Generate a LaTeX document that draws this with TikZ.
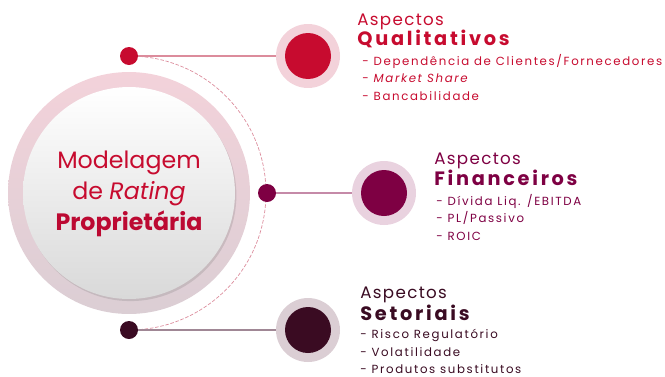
\documentclass[tikz,border=0pt]{standalone}
\usepackage{fontspec}
\setmainfont{Poppins}
\newfontfamily\spacedfont[LetterSpace=14]{Poppins}
\newfontfamily\wideheadfont[LetterSpace=8]{Poppins}
\newfontfamily\boldheadfont[LetterSpace=14]{Poppins}
\usetikzlibrary{shadows}

\definecolor{qualred}{HTML}{C70B2F}
\definecolor{qualring}{HTML}{F3D2DA}
\definecolor{qualline}{HTML}{DC8C9C}
\definecolor{finwine}{HTML}{7E0043}
\definecolor{finring}{HTML}{E9D2DF}
\definecolor{finline}{HTML}{C58AA8}
\definecolor{setplum}{HTML}{3A0B22}
\definecolor{setring}{HTML}{DBCED4}
\definecolor{setline}{HTML}{A08795}

\tikzset{
  dot/.style={circle, minimum size=0.36cm, inner sep=0},
  ringbig/.style={circle, minimum size=1.28cm, inner sep=0},
  corebig/.style={circle, minimum size=0.92cm, inner sep=0},
  head/.style={anchor=base west, inner sep=0, font=\wideheadfont\fontsize{9.5}{11}\selectfont},
  headbold/.style={anchor=base west, inner sep=0, font=\boldheadfont\bfseries\fontsize{11}{12}\selectfont},
  item/.style={anchor=base west, inner sep=0, font=\spacedfont\fontsize{6.7}{8}\selectfont},
  centertext/.style={anchor=base, inner sep=0, text=qualred}
}

\begin{document}
\begin{tikzpicture}[x=0.02cm, y=-0.02cm]
\useasboundingbox (0,0) rectangle (665,376);

% central circle
\node[circle, minimum size=4.84cm, inner sep=0, top color=qualring, bottom color=setring] (coreRing) at (129,193) {};
\node[circle, minimum size=4.24cm, inner sep=0, top color=white, bottom color=black!15,
      drop shadow={shadow xshift=0.8pt, shadow yshift=-1.2pt, opacity=0.2, fill=black!60}] (core) at (129,193) {};
\node[centertext, font=\fontsize{13.5}{15}\selectfont] (lineA) at (129,168) {Modelagem};
\node[centertext, font=\fontsize{13.5}{15}\selectfont] (lineB) at (129,199) {de \textit{Rating}};
\node[centertext, font=\bfseries\fontsize{13.5}{15}\selectfont, text=qualred!85!finwine] (lineC) at (129,230) {Proprietária};

% dashed arc and dots
\draw[qualline, dashed, dash pattern=on 2pt off 1pt, line width=0.4pt] (129,56) arc[start angle=90, end angle=-90, radius=2.74cm];
\node[dot, fill=qualred] (dotQual) at (129,56) {};
\node[dot, fill=finwine] (dotFin) at (267,193) {};
\node[dot, fill=setplum] (dotSet) at (129,330) {};

% aspect circles
\node[ringbig, fill=qualring] (ringQual) at (308,56) {};
\node[corebig, fill=qualred] (coreQual) at (308,56) {};
\node[ringbig, fill=finring] (ringFin) at (384,193) {};
\node[corebig, fill=finwine] (coreFin) at (384,193) {};
\node[ringbig, fill=setring] (ringSet) at (308,330) {};
\node[corebig, fill=setplum] (coreSet) at (308,330) {};

\draw[qualline, line width=0.6pt] (dotQual) -- (ringQual);
\draw[finline, line width=0.6pt] (dotFin) -- (ringFin);
\draw[setline, line width=0.6pt] (dotSet) -- (ringSet);

% Qualitativos
\node[head, text=qualred] (headQual) at (357,25) {Aspectos};
\node[headbold, text=qualred] (titleQual) at (357,45) {Qualitativos};
\node[item, text=qualred] (itemQualA) at (362,65) {- Dependência de Clientes/Fornecedores};
\node[item, text=qualred] (itemQualB) at (362,82) {- \textit{Market Share}};
\node[item, text=qualred] (itemQualC) at (362,100) {- Bancabilidade};

% Financeiros
\node[head, text=finwine] (headFin) at (434,164) {Aspectos};
\node[headbold, text=finwine] (titleFin) at (434,185) {Financeiros};
\node[item, text=finwine] (itemFinA) at (436,205) {- Dívida Liq. /EBITDA};
\node[item, text=finwine] (itemFinB) at (436,222) {- PL/Passivo};
\node[item, text=finwine] (itemFinC) at (436,240) {- ROIC};

% Setoriais
\node[head, text=setplum] (headSet) at (360,298) {Aspectos};
\node[headbold, text=setplum] (titleSet) at (360,320) {Setoriais};
\node[item, text=setplum] (itemSetA) at (360,338) {- Risco Regulatório};
\node[item, text=setplum] (itemSetB) at (360,356) {- Volatilidade};
\node[item, text=setplum] (itemSetC) at (360,373) {- Produtos substitutos};
\end{tikzpicture}
\end{document}
